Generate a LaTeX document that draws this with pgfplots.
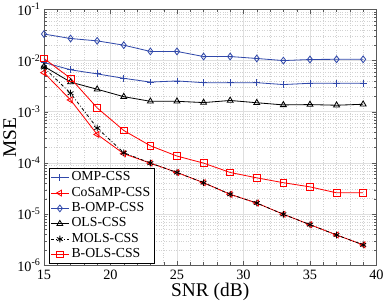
\documentclass[border=0pt]{standalone}
\usepackage{pgfplots}
\pgfplotsset{compat=1.18}
\usepackage{fontspec}
\setmainfont{Liberation Serif}
\definecolor{mblue}{RGB}{48,72,170}
\begin{document}
\begin{tikzpicture}
\begin{axis}[
  scale only axis,
  width=325bp, height=250bp,
  xmin=15, xmax=40,
  ymode=log, ymin=1e-6, ymax=1e-1,
  xtick={15,20,25,30,35,40},
  minor x tick num=4,
  ytick={1e-6,1e-5,1e-4,1e-3,1e-2,1e-1},
  yticklabels={10\textsuperscript{-6},10\textsuperscript{-5},10\textsuperscript{-4},10\textsuperscript{-3},10\textsuperscript{-2},10\textsuperscript{-1}},
  /pgf/number format/assume math mode=true,
  xticklabel style={font=\fontsize{14}{16}\selectfont, yshift=-1bp},
  yticklabel style={font=\fontsize{14}{16}\selectfont},
  xlabel={SNR (dB)}, ylabel={MSE},
  label style={font=\fontsize{19}{22}\selectfont},
  xlabel style={yshift=3bp},
  ylabel style={yshift=-6bp},
  grid=both,
  major grid style={gray!25, line width=0.5bp},
  minor grid style={gray!35, dotted, line width=0.5bp},
  axis line style={gray!70!black, line width=0.6bp},
  tick style={gray!70!black},
  tick align=inside,
  legend style={at={(0.015,0.005)}, anchor=south west, font=\fontsize{13.5}{15}\selectfont, draw=black, line width=0.5bp, inner sep=1.5bp, row sep=0bp,
    nodes={inner ysep=1bp, inner xsep=2.5bp, text height=9.5bp, text depth=3.5bp}},
  legend cell align=left,
  every axis plot/.append style={line width=0.8bp, mark size=3.3bp},
]
\addplot[mblue, mark=+] coordinates {(15,0.0092)(17,0.0066)(19,0.0055)(21,0.0045)(23,0.0038)(25,0.0040)(27,0.0037)(29,0.0037)(31,0.0037)(33,0.0034)(35,0.0036)(37,0.0036)(39,0.0036)};
\addlegendentry{OMP-CSS}
\addplot[red, mark=triangle, mark options={rotate=90}] coordinates {(15,0.0058)(17,0.0017)(19,3.6e-4)(21,1.51e-4)(23,9.9e-5)(25,6.5e-5)(27,4.1e-5)(29,2.43e-5)(31,1.64e-5)(33,9.9e-6)(35,6.2e-6)(37,3.9e-6)(39,2.5e-6)};
\addlegendentry{CoSaMP-CSS}
\addplot[mblue, mark=diamond] coordinates {(15,0.033)(17,0.027)(19,0.0243)(21,0.020)(23,0.0151)(25,0.0151)(27,0.012)(29,0.012)(31,0.011)(33,0.010)(35,0.0105)(37,0.0106)(39,0.0106)};
\addlegendentry{B-OMP-CSS}
\addplot[black, mark=triangle] coordinates {(15,0.0077)(17,0.0038)(19,0.00275)(21,0.00197)(23,0.0016)(25,0.0016)(27,0.00151)(29,0.00166)(31,0.0015)(33,0.00136)(35,0.00138)(37,0.00134)(39,0.0014)};
\addlegendentry{OLS-CSS}
\addplot[black, dashdotted, mark=asterisk, mark options={solid}] coordinates {(15,0.0073)(17,0.0023)(19,4.8e-4)(21,1.58e-4)(23,9.9e-5)(25,6.5e-5)(27,4.1e-5)(29,2.43e-5)(31,1.64e-5)(33,9.9e-6)(35,6.2e-6)(37,3.9e-6)(39,2.5e-6)};
\addlegendentry{MOLS-CSS}
\addplot[red, mark=square] coordinates {(15,0.011)(17,0.0045)(19,0.00119)(21,4.3e-4)(23,2.16e-4)(25,1.36e-4)(27,9.9e-5)(29,6.5e-5)(31,5.1e-5)(33,4.1e-5)(35,3.4e-5)(37,2.6e-5)(39,2.6e-5)};
\addlegendentry{B-OLS-CSS}
\end{axis}
\end{tikzpicture}
\end{document}
